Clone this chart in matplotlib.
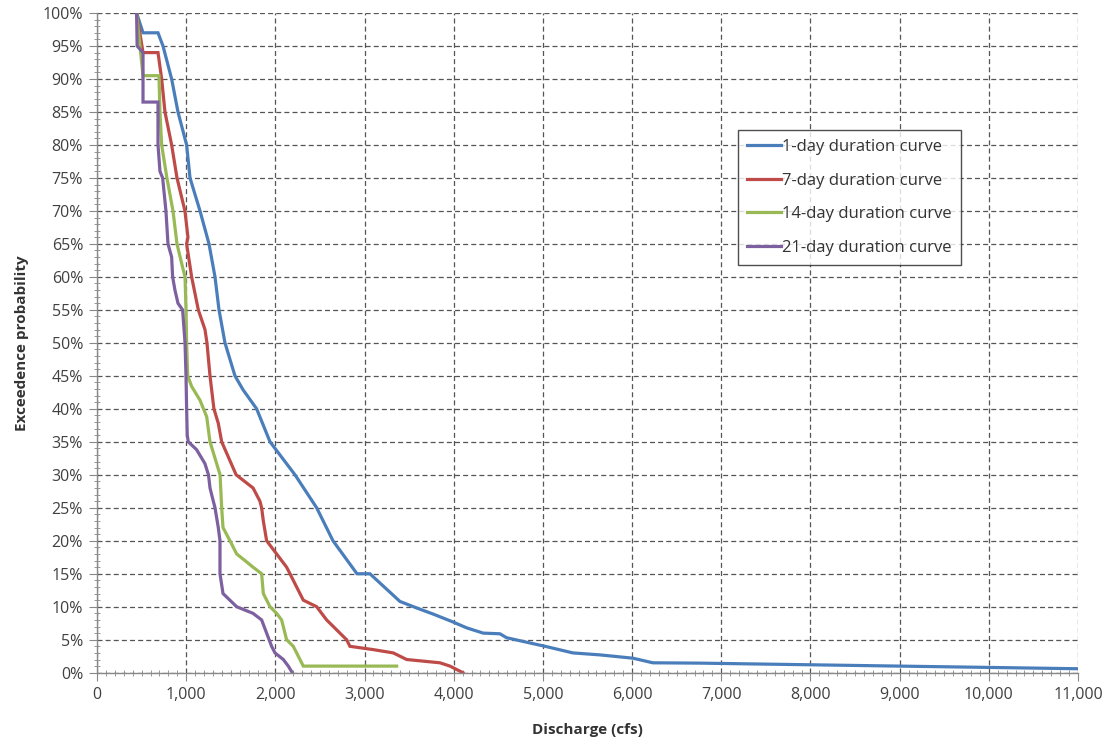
import matplotlib
matplotlib.use("Agg")
import matplotlib.pyplot as plt
from matplotlib.ticker import MultipleLocator, FuncFormatter

plt.rcParams['font.family'] = ['Open Sans', 'DejaVu Sans']

# 1-day duration curve
x1 = [444, 516, 684, 740, 837, 908, 1005, 1043, 1155, 1256, 1323, 1368, 1435, 1547, 1637,
      1790, 1940, 2220, 2463, 2646, 2915, 3060, 3397, 3587, 3767, 3990, 4145, 4330,
      4518, 4593, 4890, 5041, 5336, 5639, 6009, 6233, 6760, 8000, 9000, 10000, 11000]
y1 = [100, 97, 97, 95, 90, 85, 80, 75, 70, 65, 60, 55, 50, 45, 42.9,
      40, 35, 30, 25, 20, 15, 15, 10.8, 9.8, 8.9, 7.7, 6.8, 6.0,
      5.9, 5.3, 4.4, 3.95, 3.0, 2.7, 2.2, 1.5, 1.45, 1.2, 1.0, 0.8, 0.6]

# 7-day duration curve
x7 = [444, 516, 684, 725, 762, 837, 897, 986, 1020, 1005, 1061, 1136, 1211, 1233, 1267,
      1311, 1360, 1398, 1560, 1750, 1827, 1846, 1865, 1902, 2014, 2126, 2164, 2238,
      2313, 2463, 2519, 2575, 2724, 2799, 2836, 3097, 3322, 3472, 3845, 3958, 4103]
y7 = [100, 94, 94, 90, 85, 80, 75, 70, 66, 65, 60, 55, 52, 50, 45,
      40, 37.8, 35, 30, 28, 26, 25, 23, 20, 18, 16, 15, 13,
      11, 10, 9, 8, 6, 5, 4, 3.5, 3, 2, 1.5, 1, 0]

# 14-day duration curve
x14 = [444, 516, 695, 706, 725, 784, 852, 897, 950, 987, 998, 1005, 1017, 1061, 1155,
       1230, 1267, 1380, 1398, 1413, 1491, 1566, 1659, 1749, 1846, 1865, 1940, 2014,
       2070, 2126, 2201, 2276, 2313, 3360]
y14 = [100, 90.5, 90.5, 85, 80, 75, 70, 65, 62, 60, 55, 50, 45, 43.4, 41.3,
       38.8, 35, 30, 25, 22, 20, 18, 17, 16, 15, 12, 10, 9,
       8, 5, 4, 2, 1, 1]

# 21-day duration curve
x21 = [444, 450, 516, 516, 684, 684, 706, 736, 773, 796, 837, 848, 874, 908, 960,
       987, 998, 1005, 1012, 1024, 1117, 1210, 1250, 1267, 1323, 1360, 1379, 1379, 1413,
       1566, 1749, 1846, 1902, 1958, 1996, 2089, 2145, 2190]
y21 = [100, 95, 94, 86.5, 86.5, 80, 76, 75, 70, 65, 63, 60, 58, 56, 55,
       50, 45, 40, 36, 35, 33.8, 31.7, 30, 28, 25, 22, 20, 15, 12,
       10, 9, 8, 6, 4, 3, 2, 1, 0]

labels = ['1-day duration curve', '7-day duration curve',
          '14-day duration curve', '21-day duration curve']
colors = ['#4A7EBB', '#BE4B48', '#98B954', '#7D60A0']

fig = plt.figure(figsize=(11.12, 7.44), dpi=100)
ax = fig.add_axes([97/1112, (744-672.7)/744, (1078-97)/1112, (672.7-13)/744])

for xs, ys, lab, c in zip([x1, x7, x14, x21], [y1, y7, y14, y21], labels, colors):
    ax.plot(xs, ys, color=c, lw=2.3, label=lab, solid_joinstyle='miter')

ax.set_xlim(0, 11000)
ax.set_ylim(0, 100)
ax.xaxis.set_major_locator(MultipleLocator(1000))
ax.xaxis.set_minor_locator(MultipleLocator(100))
ax.yaxis.set_major_locator(MultipleLocator(5))
ax.yaxis.set_minor_locator(MultipleLocator(1))
ax.xaxis.set_major_formatter(FuncFormatter(lambda v, p: f"{int(v):,}"))
ax.yaxis.set_major_formatter(FuncFormatter(lambda v, p: f"{int(v)}%"))

ax.grid(True, which='major', color='#555555', linestyle=(0, (4, 2.5)), linewidth=0.9)
ax.set_axisbelow(True)
for s in ['top', 'right']:
    ax.spines[s].set_visible(False)
for s in ['left', 'bottom']:
    ax.spines[s].set_color('#888888')
    ax.spines[s].set_linewidth(1.0)

ax.tick_params(which='major', direction='out', length=6, color='#888888',
               labelsize=11.5, labelcolor='#404040')
ax.tick_params(which='minor', direction='inout', length=4, color='#888888')
ax.tick_params(axis='x', pad=4)
ax.tick_params(axis='y', pad=4)

ax.set_xlabel('Discharge (cfs)', fontsize=11, fontweight='bold', color='#333333', labelpad=15)
ax.set_ylabel('Exceedence probability', fontsize=11, fontweight='bold', color='#333333', labelpad=10)

leg = ax.legend(loc='upper left', bbox_to_anchor=((738-97)/981, (672.7-130)/659.7),
                fontsize=12, frameon=True, fancybox=False, edgecolor='#222222',
                handlelength=2.0, handletextpad=0.1, borderpad=0.55, labelspacing=1.05,
                borderaxespad=0)
leg.get_frame().set_linewidth(1.0)
for t in leg.get_texts():
    t.set_color('#333333')

fig.savefig('out.png', dpi=100)
